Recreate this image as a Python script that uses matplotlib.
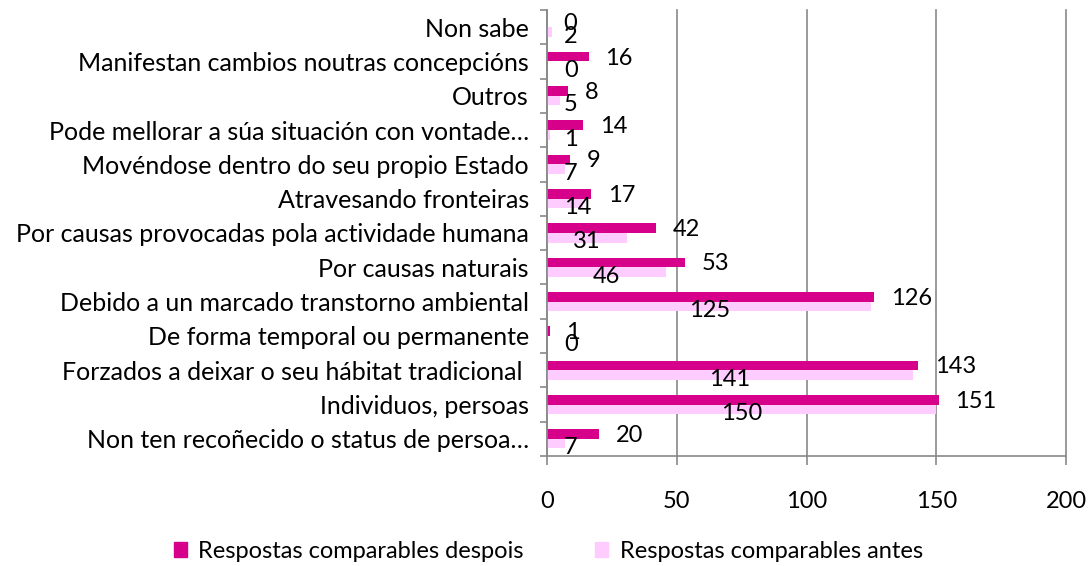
import numpy as np
import matplotlib
matplotlib.use('Agg')
import matplotlib.pyplot as plt
from matplotlib.patches import Patch

plt.rcParams['font.family'] = ['Lato', 'DejaVu Sans']

categorias = [
    'Non ten recoñecido o status de persoa…',
    'Individuos, persoas',
    'Forzados a deixar o seu hábitat tradicional ',
    'De forma temporal ou permanente',
    'Debido a un marcado transtorno ambiental',
    'Por causas naturais',
    'Por causas provocadas pola actividade humana',
    'Atravesando fronteiras',
    'Movéndose dentro do seu propio Estado',
    'Pode mellorar a súa situación con vontade…',
    'Outros',
    'Manifestan cambios noutras concepcións',
    'Non sabe',
]
despois = [20, 151, 143, 1, 126, 53, 42, 17, 9, 14, 8, 16, 0]
antes = [7, 150, 141, 0, 125, 46, 31, 14, 7, 1, 5, 0, 2]

col_despois = '#D6008A'
col_antes = '#FFCCFF'
gris = '#898989'

fig = plt.figure(figsize=(10.92, 5.66), dpi=100)
ax = fig.add_axes([547 / 1092, 1 - 456 / 566, 519 / 1092, 446 / 566])

y = np.arange(len(categorias))
h = 0.28
ax.barh(y + h / 2, despois, height=h, color=col_despois, zorder=3)
ax.barh(y - h / 2, antes, height=h, color=col_antes, zorder=2)

# etiquetas
for i, v in enumerate(despois):
    ax.annotate(str(v), (v, y[i] + h / 2), xytext=(12, -1), textcoords='offset points',
                ha='left', va='center', fontsize=17, zorder=4)
for i, v in enumerate(antes):
    if v / 2 < 9:
        ax.annotate(str(v), (6.5, y[i] - h / 2), xytext=(0, -3), textcoords='offset points',
                    ha='left', va='center', fontsize=17, zorder=4)
    else:
        ax.annotate(str(v), (v / 2, y[i] - h / 2), xytext=(0, -3), textcoords='offset points',
                    ha='center', va='center', fontsize=17, zorder=4)

ax.set_xlim(0, 200)
ax.set_ylim(-0.5, len(categorias) - 0.5)
ax.set_xticks([0, 50, 100, 150, 200])
ax.set_yticks(y)
ax.set_yticklabels(categorias, fontsize=18)
ax.set_yticks(np.arange(-0.5, len(categorias), 1), minor=True)
ax.tick_params(axis='y', which='major', length=0, pad=13)
ax.tick_params(axis='y', which='minor', length=5, width=1.2, color=gris, direction='out')
ax.tick_params(axis='x', length=6.5, width=1.2, color=gris, pad=19, labelsize=17)

ax.grid(axis='x', color=gris, linewidth=1.2, zorder=0)
for gl in ax.get_xgridlines():
    gl.set_clip_on(False)
for s in ['top', 'right']:
    ax.spines[s].set_visible(False)
for s in ['left', 'bottom']:
    ax.spines[s].set_color(gris)
    ax.spines[s].set_linewidth(1.2)
    ax.spines[s].set_zorder(5)

handles = [Patch(color=col_despois), Patch(color=col_antes)]
fig.legend(handles, ['Respostas comparables despois', 'Respostas comparables antes'],
           loc='center', bbox_to_anchor=(0.502, 0.026), ncol=2, frameon=False,
           fontsize=17, handlelength=0.55, handleheight=0.55, handletextpad=0.5,
           columnspacing=3.0, borderpad=0)

plt.savefig('out.png', dpi=100)
